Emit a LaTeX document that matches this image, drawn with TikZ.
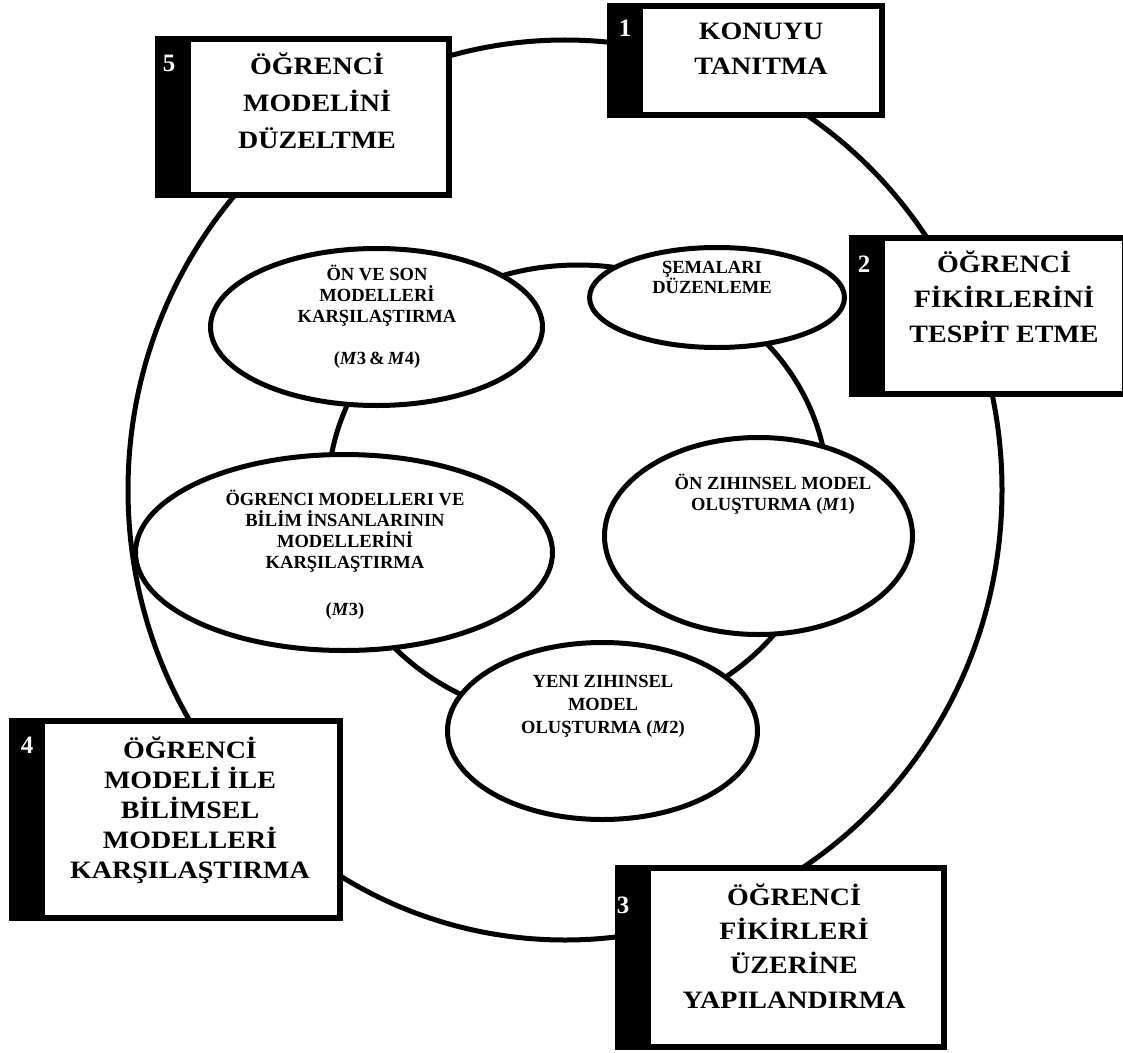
\documentclass[tikz,border=0pt]{standalone}
\usepackage{fontspec}
\setmainfont{Liberation Serif}
\newfontfamily\boxfont[FakeStretch=1.12]{Liberation Serif}
\usetikzlibrary{shapes.geometric}
\begin{document}
\begin{tikzpicture}[x=0.75pt,y=-0.75pt,
  ring/.style={line width=3.75pt},
  boxframe/.style={rectangle, draw, line width=4.5pt, fill=white, inner sep=0pt,
    path picture={\fill[black] (path picture bounding box.south west) rectangle ([xshift=24.75pt]path picture bounding box.north west);}},
  oval/.style={ellipse, draw, line width=3.75pt, fill=white, inner sep=0pt},
  boxtext/.style={anchor=base, align=center, inner sep=0pt, font=\boxfont\bfseries\fontsize{18.75pt}{26.25pt}\selectfont},
  numtext/.style={anchor=base, inner sep=0pt, text=white, font=\bfseries\fontsize{18.75pt}{20pt}\selectfont},
  ovaltext/.style={anchor=base, align=center, inner sep=0pt, font=\bfseries\fontsize{13.9pt}{15.75pt}\selectfont}]
\useasboundingbox[fill=white] (0,0) rectangle (1123,1052);

% rings
\draw[ring] (565,490) ellipse [x radius=327.75pt, y radius=337.5pt];
\draw[ring] (578,493) ellipse [x radius=187.5pt, y radius=171pt];

% boxes
\node[boxframe, minimum width=204pt, minimum height=81.75pt] (b1) at (746,60.5) {};
\node[boxframe, minimum width=218.25pt, minimum height=117pt] (b5) at (303.5,117) {};
\node[boxframe, minimum width=204.75pt, minimum height=117pt] (b2) at (988.5,316) {};
\node[boxframe, minimum width=246pt, minimum height=147.75pt] (b4) at (176,819.5) {};
\node[boxframe, minimum width=244.5pt, minimum height=134.25pt] (b3) at (781,957.5) {};

% ovals
\node[oval, minimum width=249pt, minimum height=117.75pt] (e1) at (376.5,327) {};
\node[oval, minimum width=191.25pt, minimum height=75pt] (e2) at (717,297.5) {};
\node[oval, minimum width=231pt, minimum height=147.75pt] (e3) at (758.5,536) {};
\node[oval, minimum width=312.75pt, minimum height=147pt] (e4) at (344,552.5) {};
\node[oval, minimum width=232.5pt, minimum height=132.75pt] (e5) at (602.5,731) {};

% numbers
\node[numtext] (n1) at (625,37) {1};
\node[numtext] (n5) at (169,72) {5};
\node[numtext] (n2) at (864,272) {2};
\node[numtext] (n4) at (27,753) {4};
\node[numtext] (n3) at (623,913) {3};

% box texts (anchored at the baseline of the last line)
\node[boxtext] (t1) at (761,75) {KONUYU\\TANITMA};
\node[boxtext, font=\boxfont\bfseries\fontsize{18.75pt}{27.4pt}\selectfont] (t5) at (317,148) {ÖĞRENCİ\\MODELİNİ\\DÜZELTME};
\node[boxtext] (t2) at (1004,342) {ÖĞRENCİ\\FİKİRLERİNİ\\TESPİT ETME};
\node[boxtext, font=\boxfont\bfseries\fontsize{18.75pt}{22.5pt}\selectfont] (t4) at (190,878) {ÖĞRENCİ\\MODELİ İLE\\BİLİMSEL\\MODELLERİ\\KARŞILAŞTIRMA};
\node[boxtext, font=\boxfont\bfseries\fontsize{18.75pt}{25.7pt}\selectfont] (t3) at (794,1008) {ÖĞRENCİ\\FİKİRLERİ\\ÜZERİNE\\YAPILANDIRMA};

% oval texts
\node[ovaltext] (o1) at (377,364) {ÖN VE SON\\MODELLERİ\\KARŞILAŞTIRMA\\[15.75pt](\textit{M}3\,\&\,\textit{M}4)};
\node[ovaltext, font=\bfseries\fontsize{13.9pt}{15pt}\selectfont] (o2) at (712,293) {ŞEMALARI\\DÜZENLEME};
\node[ovaltext] (o3) at (773,510) {ÖN ZIHINSEL MODEL\\OLUŞTURMA (\textit{M}1)};
\node[ovaltext] (o4) at (345,615) {ÖGRENCI MODELLERI VE\\BİLİM İNSANLARININ\\MODELLERİNİ\\KARŞILAŞTIRMA\\[19.5pt](\textit{M}3)};
\node[ovaltext, font=\bfseries\fontsize{13.9pt}{17.25pt}\selectfont] (o5) at (603,733) {YENI ZIHINSEL\\MODEL\\OLUŞTURMA (\textit{M}2)};
\end{tikzpicture}
\end{document}
